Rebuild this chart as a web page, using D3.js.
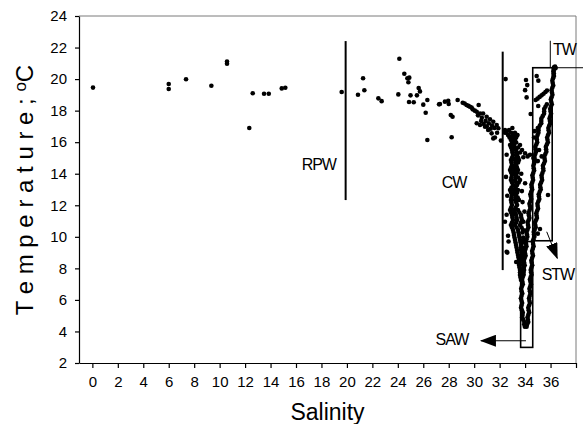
<!DOCTYPE html>
<html>
<head>
<meta charset="utf-8">
<script src="https://cdn.jsdelivr.net/npm/d3@7"></script>
<style>
  body { margin: 0; background: #fff; }
  svg { display: block; font-family: "Liberation Sans", Arial, sans-serif; }
</style>
</head>
<body>
<svg></svg>
<script>
"use strict";

// [salinity, temperature], grouped by water mass
const riverPts = [
  [0.05, 19.46], [6.0, 19.69], [6.0, 19.37], [7.36, 19.99], [9.35, 19.58],
  [10.58, 21.12], [10.58, 20.98], [12.33, 16.9], [12.6, 19.1], [13.49, 19.07],
  [13.86, 19.07], [14.88, 19.41], [15.16, 19.45], [19.59, 19.18]
];

const coastalPts = [
  [20.87, 19.01], [21.27, 20.05], [21.37, 19.29], [22.47, 18.78], [22.73, 18.6],
  [24.12, 21.29], [24.04, 19.03], [24.51, 20.34], [24.75, 20.05], [24.9, 20.09],
  [24.83, 19.8], [25.0, 18.97], [24.88, 18.55], [25.25, 18.53], [25.64, 19.43],
  [25.74, 19.22], [25.5, 18.97], [26.32, 18.67], [26.0, 18.38], [26.19, 17.87],
  [26.32, 16.14], [27.24, 18.4], [27.31, 18.42], [27.7, 18.57], [27.96, 18.63],
  [28.0, 18.42], [28.16, 17.72], [28.3, 17.61], [28.23, 16.31], [28.7, 18.67],
  [29.1, 18.5], [29.25, 18.45], [29.4, 18.36], [29.55, 18.3], [29.67, 18.25],
  [29.8, 18.2], [29.88, 18.08], [30.05, 18.0], [30.2, 17.93], [30.35, 18.36],
  [30.3, 17.7], [30.46, 17.82], [30.6, 17.55], [30.7, 17.82], [30.9, 17.35],
  [30.98, 17.61], [31.15, 17.2], [31.24, 17.45], [31.4, 17.05], [31.5, 17.3],
  [31.6, 16.9], [31.77, 17.09], [31.8, 16.6], [31.9, 16.88], [30.2, 17.2],
  [30.46, 17.09], [30.55, 17.35], [30.75, 17.15], [30.85, 16.98], [31.0, 17.0],
  [31.1, 16.77], [31.3, 16.85], [31.37, 16.56], [31.5, 16.24], [31.63, 16.3],
  [32.1, 16.1]
];

const shelfPts = [
  [32.47, 20.0], [32.42, 16.6], [32.55, 15.2], [33.0, 16.9], [33.4, 16.45],
  [32.96, 16.35], [33.86, 15.04], [34.0, 15.3], [34.2, 15.1], [34.39, 15.2],
  [32.42, 10.96], [32.66, 10.07], [32.6, 9.0], [32.55, 9.05], [33.3, 8.4],
  [33.86, 10.96], [34.1, 10.4], [32.5, 13.8], [32.6, 12.6], [33.75, 12.9],
  [33.7, 14.0], [33.8, 12.2], [32.55, 11.4], [33.95, 11.6], [32.7, 9.7],
  [34.0, 13.4],
  [32.42, 16.77], [32.74, 16.77],
  [32.55, 16.6], [32.9, 16.6], [33.2, 16.6],
  [32.66, 16.45], [33.05, 16.45], [33.37, 16.45],
  [32.78, 16.3], [33.1, 16.3], [33.3, 16.3],
  [32.89, 16.14], [33.21, 16.14],
  [32.98, 15.98], [33.3, 15.98],
  [32.82, 15.82], [33.13, 15.82], [33.6, 15.82],
  [32.9, 15.66], [33.2, 15.66], [33.45, 15.66],
  [32.97, 15.5], [33.29, 15.5], [33.76, 15.5],
  [33.0, 15.35], [33.3, 15.35], [33.6, 15.35],
  [33.05, 15.19], [33.37, 15.19],
  [32.98, 15.03], [33.3, 15.03], [33.45, 15.03],
  [32.89, 14.87], [33.21, 14.87], [33.52, 14.87],
  [32.93, 14.71], [33.25, 14.71], [33.45, 14.71],
  [32.97, 14.55], [33.29, 14.55],
  [32.9, 14.4], [33.2, 14.4], [33.36, 14.4],
  [32.82, 14.24], [33.13, 14.24], [33.44, 14.24],
  [32.9, 14.08], [33.2, 14.08], [33.4, 14.08],
  [32.97, 13.92], [33.29, 13.92],
  [32.93, 13.76], [33.25, 13.76], [33.45, 13.76],
  [32.89, 13.6], [33.21, 13.6], [33.6, 13.6],
  [32.97, 13.44], [33.3, 13.44], [33.5, 13.44],
  [33.05, 13.28], [33.37, 13.28],
  [32.93, 13.12], [33.25, 13.12],
  [32.82, 12.97], [33.13, 12.97], [33.44, 12.97],
  [32.9, 12.81], [33.2, 12.81], [33.38, 12.81],
  [32.97, 12.65], [33.29, 12.65],
  [32.93, 12.49], [33.25, 12.49], [33.42, 12.49],
  [32.89, 12.33], [33.21, 12.33], [33.52, 12.33],
  [32.93, 12.18], [33.3, 12.18],
  [32.97, 12.02], [33.37, 12.02],
  [32.9, 11.86], [33.25, 11.86],
  [32.82, 11.7], [33.13, 11.7], [33.44, 11.7],
  [32.9, 11.54], [33.2, 11.54], [33.55, 11.54],
  [32.97, 11.38], [33.29, 11.38], [33.68, 11.38],
  [33.0, 11.22], [33.33, 11.22], [33.7, 11.22],
  [33.05, 11.06], [33.37, 11.06], [33.76, 11.06],
  [32.97, 10.9], [33.3, 10.9], [33.68, 10.9],
  [32.89, 10.75], [33.21, 10.75], [33.6, 10.75],
  [32.97, 10.59], [33.33, 10.59], [33.72, 10.59],
  [33.05, 10.43], [33.44, 10.43], [33.84, 10.43],
  [33.1, 10.27], [33.48, 10.27], [33.8, 10.27],
  [33.13, 10.11], [33.52, 10.11],
  [33.17, 9.96], [33.56, 9.96], [33.85, 9.96],
  [33.21, 9.8], [33.6, 9.8], [33.92, 9.8],
  [33.25, 9.64], [33.64, 9.64], [33.9, 9.64],
  [33.29, 9.48], [33.68, 9.48],
  [33.33, 9.32], [33.68, 9.32], [33.95, 9.32],
  [33.37, 9.16], [33.68, 9.16], [33.99, 9.16],
  [33.4, 9.0], [33.72, 9.0],
  [33.44, 8.84], [33.76, 8.84],
  [33.48, 8.69], [33.8, 8.69],
  [33.52, 8.53], [33.84, 8.53],
  [33.52, 8.37], [33.84, 8.37],
  [33.52, 8.21], [33.84, 8.21],
  [33.56, 8.05], [33.88, 8.05],
  [33.6, 7.89], [33.92, 7.89],
  [33.6, 7.73], [33.85, 7.73],
  [33.6, 7.58], [33.64, 7.42], [33.68, 7.26]
];

const tropicalPts = [
  [36.35, 20.8], [36.27, 20.75], [36.4, 20.7], [36.24, 20.5], [36.27, 20.2],
  [36.14, 19.9], [36.21, 19.6], [36.08, 19.3], [36.15, 19.0], [36.02, 18.7],
  [36.1, 18.4], [35.97, 18.1], [36.04, 17.8], [35.92, 17.5], [35.98, 17.2],
  [35.83, 16.9], [35.88, 16.6], [35.73, 16.3], [35.79, 16.0], [35.63, 15.7],
  [35.67, 15.4], [35.51, 15.1], [35.56, 14.8], [35.4, 14.5], [35.44, 14.2],
  [35.29, 13.9], [35.34, 13.6], [35.18, 13.3], [35.23, 13.0], [35.07, 12.7],
  [35.12, 12.4], [34.97, 12.1], [35.02, 11.8], [34.88, 11.5], [34.93, 11.2],
  [34.78, 10.9], [34.83, 10.6], [34.68, 10.3], [34.73, 10.0], [34.6, 9.7],
  [34.67, 9.4], [34.55, 9.1], [34.62, 8.8], [34.49, 8.5], [34.56, 8.2],
  [34.44, 7.9], [34.51, 7.6], [34.38, 7.3], [34.46, 7.0], [34.34, 6.7],
  [34.42, 6.4], [34.31, 6.1], [34.38, 5.8], [34.25, 5.5], [34.32, 5.2],
  [34.19, 4.9], [34.25, 4.6], [34.12, 4.3],
  [36.32, 20.65], [36.26, 20.35], [36.2, 20.05], [36.17, 19.75], [36.14, 19.45],
  [36.11, 19.15], [36.08, 18.85], [36.06, 18.55], [36.03, 18.25], [36.0, 17.95],
  [35.98, 17.65], [35.95, 17.35], [35.9, 17.05], [35.85, 16.75], [35.8, 16.45],
  [35.76, 16.15], [35.71, 15.85], [35.65, 15.55], [35.59, 15.25], [35.53, 14.95],
  [35.48, 14.65], [35.42, 14.35], [35.36, 14.05], [35.31, 13.75], [35.26, 13.45],
  [35.2, 13.15], [35.15, 12.85], [35.09, 12.55], [35.04, 12.25], [34.99, 11.95],
  [34.95, 11.65], [34.9, 11.35], [34.85, 11.05], [34.8, 10.75], [34.75, 10.45],
  [34.7, 10.15], [34.66, 9.85], [34.63, 9.55], [34.61, 9.25], [34.58, 8.95],
  [34.55, 8.65], [34.52, 8.35], [34.5, 8.05], [34.47, 7.75], [34.44, 7.45],
  [34.42, 7.15], [34.4, 6.85], [34.38, 6.55], [34.36, 6.25], [34.34, 5.95],
  [34.31, 5.65], [34.28, 5.35], [34.25, 5.05], [34.22, 4.75], [34.16, 4.45]
];

const subtropicalPts = [
  [35.71, 18.4], [35.5, 18.1], [35.49, 17.8], [35.28, 17.5], [35.27, 17.2],
  [35.06, 16.9], [35.05, 16.6], [34.91, 16.3], [34.95, 16.0], [34.8, 15.7],
  [34.86, 15.4], [34.73, 15.1], [34.78, 14.8], [34.65, 14.5], [34.71, 14.2],
  [34.57, 13.9], [34.63, 13.6], [34.49, 13.3], [34.56, 13.0], [34.41, 12.7],
  [34.48, 12.4], [34.34, 12.1], [34.41, 11.8], [34.27, 11.5], [34.34, 11.2],
  [34.2, 10.9], [34.26, 10.6], [34.12, 10.3], [34.18, 10.0], [34.05, 9.7],
  [34.11, 9.4], [33.97, 9.1], [34.04, 8.8], [33.9, 8.5], [33.97, 8.2],
  [33.83, 7.9], [33.89, 7.6], [33.76, 7.3], [33.82, 7.0], [33.69, 6.7],
  [33.78, 6.4], [33.67, 6.1], [33.77, 5.8], [33.68, 5.5], [33.82, 5.2],
  [33.77, 4.9], [33.94, 4.6], [33.98, 4.3],
  [35.6, 18.25], [35.5, 17.95], [35.38, 17.65], [35.27, 17.35], [35.16, 17.05],
  [35.05, 16.75], [34.98, 16.45], [34.93, 16.15], [34.88, 15.85], [34.83, 15.55],
  [34.8, 15.25], [34.75, 14.95], [34.71, 14.65], [34.68, 14.35], [34.64, 14.05],
  [34.6, 13.75], [34.56, 13.45], [34.52, 13.15], [34.48, 12.85], [34.45, 12.55],
  [34.41, 12.25], [34.38, 11.95], [34.34, 11.65], [34.3, 11.35], [34.27, 11.05],
  [34.23, 10.75], [34.19, 10.45], [34.15, 10.15], [34.11, 9.85], [34.08, 9.55],
  [34.04, 9.25], [34.0, 8.95], [33.97, 8.65], [33.93, 8.35], [33.9, 8.05],
  [33.86, 7.75], [33.82, 7.45], [33.79, 7.15], [33.75, 6.85], [33.73, 6.55],
  [33.72, 6.25], [33.72, 5.95], [33.72, 5.65], [33.75, 5.35], [33.8, 5.05],
  [33.85, 4.75], [33.93, 4.45],
  [35.0, 16.9], [34.7, 16.3], [35.1, 15.5], [34.65, 15.0], [35.0, 14.8], [34.75, 16.7],
  [34.91, 20.2], [35.04, 19.9], [34.83, 18.67], [34.98, 18.76], [35.14, 18.87],
  [35.3, 18.97], [35.45, 19.07], [35.6, 19.18], [35.72, 19.28], [35.03, 18.29],
  [35.3, 15.1], [35.8, 12.65], [35.0, 10.2], [35.17, 10.5], [34.07, 19.94],
  [34.17, 19.62], [34.12, 18.84], [34.0, 19.3], [34.44, 17.79]
];

const salinityTicks = [0, 2, 4, 6, 8, 10, 12, 14, 16, 18, 20, 22, 24, 26, 28, 30, 32, 34, 36, 38];
const tempTicks = [2, 4, 6, 8, 10, 12, 14, 16, 18, 20, 22, 24];

// water mass annotations, in salinity / temperature units
const dividers = [
  { s: 19.9, t0: 12.33, t1: 22.41, w: 2 },
  { s: 32.24, t0: 7.89, t1: 21.74, w: 2 },
  { s: 35.98, t0: 20.72, t1: 22.43, w: 1 }
];
const massBoxes = [
  { s0: 34.6, s1: 36.13, t0: 9.75, t1: 20.72 },
  { s0: 33.65, s1: 34.6, t0: 2.99, t1: 9.7 }
];
const massLabels = [
  { name: "RPW", s: 19.14, t: 14.23, anchor: "end" },
  { name: "CW", s: 27.45, t: 13.07, anchor: "start" },
  { name: "TW", s: 36.19, t: 21.53, anchor: "start" },
  { name: "STW", s: 35.3, t: 7.26, anchor: "start" },
  { name: "SAW", s: 29.54, t: 3.14, anchor: "end" }
];
const arrows = [
  { s0: 35.7, t0: 10.32, s1: 36.53, t1: 8.64 },
  { s0: 34.07, t0: 3.41, s1: 30.53, t1: 3.41 }
];
const twLeader = { s0: 36.13, s1: 38.55, t: 20.72 };

const width = 583;
const height = 424;
const plotLeft = 79;
const plotRight = 576;
const plotTop = 16;
const plotBottom = 363;

const svg = d3.select("svg").attr("width", width).attr("height", height);

const xScale = d3.scaleLinear().domain([-1.05, 38]).range([plotLeft, plotRight]);
const yScale = d3.scaleLinear().domain([2, 24]).range([plotBottom, plotTop]);

// grey frame on top and right
svg.append("path")
  .attr("d", `M${plotLeft},${plotTop}H${plotRight}V${plotBottom}`)
  .attr("fill", "none")
  .attr("stroke", "#7a7a7a")
  .attr("stroke-width", 1);

const xAxis = d3.axisBottom(xScale)
  .tickValues(salinityTicks)
  .tickFormat((d) => (d === 38 ? "" : d))
  .tickSize(5)
  .tickSizeOuter(0)
  .tickPadding(8);
const yAxis = d3.axisLeft(yScale)
  .tickValues(tempTicks)
  .tickSize(4)
  .tickSizeOuter(0)
  .tickPadding(8);

const gx = svg.append("g")
  .attr("transform", `translate(0,${plotBottom})`)
  .call(xAxis);
const gy = svg.append("g")
  .attr("transform", `translate(${plotLeft},0)`)
  .call(yAxis);

[gx, gy].forEach((g) => {
  g.attr("font-family", null).attr("font-size", null);
  g.selectAll("path, line").attr("stroke", "#000").attr("stroke-width", 1.2);
  g.selectAll("text").attr("fill", "#000").style("font-size", "15px");
});

const allPts = riverPts.concat(coastalPts, shelfPts, tropicalPts, subtropicalPts);

svg.append("g")
  .selectAll("circle")
  .data(allPts)
  .enter()
  .append("circle")
  .attr("cx", (d) => xScale(d[0]))
  .attr("cy", (d) => yScale(d[1]))
  .attr("r", 2.3)
  .attr("fill", "#000");

const notes = svg.append("g");

notes.selectAll("line.divider")
  .data(dividers)
  .enter()
  .append("line")
  .attr("class", "divider")
  .attr("x1", (d) => xScale(d.s))
  .attr("x2", (d) => xScale(d.s))
  .attr("y1", (d) => yScale(d.t0))
  .attr("y2", (d) => yScale(d.t1))
  .attr("stroke", "#000")
  .attr("stroke-width", (d) => d.w);

notes.selectAll("rect")
  .data(massBoxes)
  .enter()
  .append("rect")
  .attr("x", (d) => xScale(d.s0))
  .attr("y", (d) => yScale(d.t1))
  .attr("width", (d) => xScale(d.s1) - xScale(d.s0))
  .attr("height", (d) => yScale(d.t0) - yScale(d.t1))
  .attr("fill", "none")
  .attr("stroke", "#000")
  .attr("stroke-width", 1.6);

notes.append("line")
  .attr("x1", xScale(twLeader.s0))
  .attr("x2", xScale(twLeader.s1))
  .attr("y1", yScale(twLeader.t))
  .attr("y2", yScale(twLeader.t))
  .attr("stroke", "#000")
  .attr("stroke-width", 1);

svg.append("defs")
  .append("marker")
  .attr("id", "head")
  .attr("viewBox", "0 0 16 12")
  .attr("refX", 15)
  .attr("refY", 6)
  .attr("markerWidth", 16)
  .attr("markerHeight", 12)
  .attr("markerUnits", "userSpaceOnUse")
  .attr("orient", "auto")
  .append("path")
  .attr("d", "M0,0L16,6L0,12Z")
  .attr("fill", "#000");

notes.selectAll("line.arrow")
  .data(arrows)
  .enter()
  .append("line")
  .attr("class", "arrow")
  .attr("x1", (d) => xScale(d.s0))
  .attr("y1", (d) => yScale(d.t0))
  .attr("x2", (d) => xScale(d.s1))
  .attr("y2", (d) => yScale(d.t1))
  .attr("stroke", "#000")
  .attr("stroke-width", 1)
  .attr("marker-end", "url(#head)");

notes.selectAll("text")
  .data(massLabels)
  .enter()
  .append("text")
  .attr("x", (d) => xScale(d.s))
  .attr("y", (d) => yScale(d.t))
  .attr("text-anchor", (d) => d.anchor)
  .style("font-size", "16px")
  .style("letter-spacing", "-1px")
  .text((d) => d.name);

svg.append("text")
  .attr("x", (plotLeft + plotRight) / 2)
  .attr("y", 420)
  .attr("text-anchor", "middle")
  .style("font-size", "23px")
  .text("Salinity");

const yLabel = svg.append("text")
  .attr("transform", "translate(33,190) rotate(-90)")
  .attr("text-anchor", "middle")
  .style("font-size", "24px");
yLabel.append("tspan").text("T e m p e r a t u r e ;   ");
yLabel.append("tspan").attr("dy", -7).style("font-size", "17px").text("o");
yLabel.append("tspan").attr("dy", 7).text("C");
</script>
</body>
</html>
